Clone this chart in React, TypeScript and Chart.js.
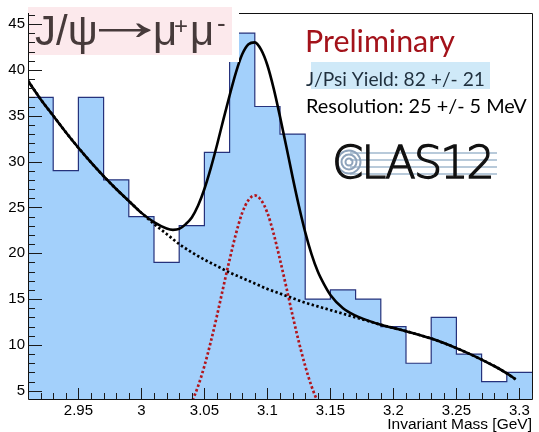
import React, { useEffect, useRef } from "react";
import { Chart, registerables } from "chart.js";

Chart.register(...registerables);

// Di-muon invariant mass histogram: 20 bins of 20 MeV starting at 2.91 GeV
const HIST_LOW = 2.91;
const BIN_WIDTH = 0.02;
const binCounts = [37, 29, 37, 28, 24, 19, 23, 31, 44, 36, 33, 15, 16, 15, 12, 8, 13, 9, 6, 7];

// Axis ranges, ticks and labels
const X_MIN = 2.91;
const X_MAX = 3.31;
const Y_MIN = 4.1;
const Y_MAX = 46.2;
const X_MINOR_STEP = 0.01;
const X_MAJOR_STEP = 0.05;
const Y_MINOR_STEP = 1;
const Y_MAJOR_STEP = 5;
const xTickLabels = ["2.95", "3", "3.05", "3.1", "3.15", "3.2", "3.25", "3.3"];
const yTickLabels = ["5", "10", "15", "20", "25", "30", "35", "40", "45"];
const X_TITLE = "Invariant Mass [GeV]";

// Background component of the fit, sampled along the mass axis
const bkgMass = [
  2.91, 2.92, 2.93, 2.94, 2.95, 2.96, 2.97, 2.98, 2.99, 3.0,
  3.01, 3.02, 3.03, 3.04, 3.05, 3.06, 3.07, 3.08, 3.09, 3.1,
  3.11, 3.12, 3.13, 3.14, 3.15, 3.16, 3.17, 3.18, 3.19, 3.2,
  3.21, 3.22, 3.23, 3.24, 3.25, 3.26, 3.27, 3.28, 3.29, 3.297,
];
const bkgFit = [
  38.8, 36.8, 35.0, 33.2, 31.5, 29.9, 28.4, 27.0, 25.7, 24.4,
  23.2, 22.1, 21.0, 20.1, 19.3, 18.6, 17.9, 17.3, 16.7, 16.1,
  15.6, 15.1, 14.6, 14.2, 13.8, 13.4, 13.0, 12.6, 12.2, 11.85,
  11.5, 11.1, 10.7, 10.2, 9.65, 9.05, 8.4, 7.7, 6.9, 6.25,
];

// J/psi peak component of the fit
const peakMass = [
  3.035, 3.04, 3.045, 3.05, 3.055, 3.06, 3.065, 3.07, 3.075, 3.08, 3.085, 3.09,
  3.095, 3.1, 3.105, 3.11, 3.115, 3.12, 3.125, 3.13, 3.135, 3.14, 3.145,
];
const peakFit = [
  2.6, 3.8, 5.5, 7.7, 10.3, 13.2, 16.3, 19.3, 22.1, 24.4, 25.8, 26.3,
  25.8, 24.4, 22.1, 19.3, 16.3, 13.2, 10.3, 7.7, 5.5, 3.8, 2.6,
];

// Total fit (peak + background)
const totalMass = [
  2.91, 2.92, 2.93, 2.94, 2.95, 2.96, 2.97, 2.98, 2.99, 3.0, 3.01, 3.02,
  3.025, 3.03, 3.035, 3.04, 3.045, 3.05, 3.055, 3.06, 3.065, 3.07, 3.075, 3.08,
  3.085, 3.09, 3.095, 3.1, 3.105, 3.11, 3.115, 3.12, 3.125, 3.13, 3.135, 3.14,
  3.145, 3.15, 3.16, 3.17, 3.18, 3.19, 3.2, 3.21, 3.22, 3.23, 3.24, 3.25,
  3.26, 3.27, 3.28, 3.29, 3.297,
];
const totalFit = [
  38.8, 36.8, 35.0, 33.2, 31.5, 29.9, 28.4, 27.0, 25.7, 24.4, 23.4, 22.7,
  22.55, 22.65, 23.15, 23.9, 25.2, 27.0, 29.25, 31.8, 34.55, 37.2, 39.7, 41.7,
  42.8, 43.0, 42.2, 40.5, 37.95, 34.9, 31.65, 28.3, 25.15, 22.3, 19.9, 18.0,
  16.6, 15.45, 14.0, 13.2, 12.65, 12.2, 11.85, 11.5, 11.1, 10.7, 10.2, 9.65,
  9.05, 8.4, 7.7, 6.9, 6.25,
];

// Annotation texts
const PRELIMINARY = "Preliminary";
const YIELD_TEXT = "J/Psi Yield: 82 +/- 21";
const RESOLUTION_TEXT = "Resolution: 25 +/- 5 MeV";
const LOGO_TEXT = "CLAS12";

const SANS = "'Liberation Sans', Arial, sans-serif";
const HUMANIST = "Lato, 'Open Sans', sans-serif";

const toPoints = (xs: number[], ys: number[]) => xs.map((x, i) => ({ x, y: ys[i] }));

const histPoints = [
  ...binCounts.map((c, i) => ({ x: HIST_LOW + i * BIN_WIDTH, y: c })),
  { x: HIST_LOW + binCounts.length * BIN_WIDTH, y: binCounts[binCounts.length - 1] },
];

function fitText(
  ctx: CanvasRenderingContext2D,
  text: string,
  x: number,
  y: number,
  width: number,
  family: string,
  weight = "normal"
) {
  ctx.font = `${weight} 100px ${family}`;
  const w = ctx.measureText(text).width;
  const size = (100 * width) / w;
  ctx.font = `${weight} ${size}px ${family}`;
  ctx.fillText(text, x, y);
}

// Frame, inward ticks, title panel and annotations
const decorations = {
  id: "decorations",
  afterDraw(chart: any) {
    const { ctx, chartArea: a } = chart;
    const xs = chart.scales.x;
    const ys = chart.scales.y;
    ctx.save();

    // title panel
    const panelRight = 239;
    ctx.fillStyle = "#ffffff";
    ctx.fillRect(30, 0, panelRight - 30, 62);
    ctx.fillStyle = "#fce9ec";
    ctx.fillRect(28, 7, 204, 48);

    // frame
    ctx.strokeStyle = "#111";
    ctx.lineWidth = 1;
    ctx.beginPath();
    ctx.moveTo(a.left + 0.5, a.top);
    ctx.lineTo(a.left + 0.5, a.bottom + 0.5);
    ctx.lineTo(a.right + 0.5, a.bottom + 0.5);
    ctx.lineTo(a.right + 0.5, a.top + 0.5);
    ctx.lineTo(panelRight, a.top + 0.5);
    ctx.stroke();

    // ticks
    ctx.strokeStyle = "#1a1a1a";
    ctx.beginPath();
    const k0 = Math.ceil(X_MIN / X_MINOR_STEP - 1e-6);
    const k1 = Math.floor(X_MAX / X_MINOR_STEP + 1e-6);
    for (let k = k0; k <= k1; k++) {
      const v = k * X_MINOR_STEP;
      const r = v / X_MAJOR_STEP;
      const major = Math.abs(r - Math.round(r)) < 1e-6;
      const px = Math.round(xs.getPixelForValue(v)) + 0.5;
      ctx.moveTo(px, a.bottom);
      ctx.lineTo(px, a.bottom - (major ? 11 : 6));
    }
    for (let v = Math.ceil(Y_MIN); v <= Y_MAX; v += Y_MINOR_STEP) {
      const major = v % Y_MAJOR_STEP === 0;
      const py = Math.round(ys.getPixelForValue(v)) + 0.5;
      ctx.moveTo(a.left, py);
      ctx.lineTo(a.left + (major ? 14 : 7), py);
    }
    ctx.stroke();

    // axis title
    ctx.fillStyle = "#000";
    ctx.font = `15.5px ${SANS}`;
    ctx.textAlign = "right";
    ctx.textBaseline = "alphabetic";
    ctx.fillText(X_TITLE, a.right, 429);
    ctx.textAlign = "left";

    // plot title J/psi -> mu+ mu-
    ctx.fillStyle = "#463a3a";
    ctx.font = `42px ${SANS}`;
    ctx.fillText("J/ψ", 35, 45);
    ctx.font = `46px ${SANS}`;
    const am = ctx.measureText("→");
    const inkL = -am.actualBoundingBoxLeft;
    const inkW = am.actualBoundingBoxRight + am.actualBoundingBoxLeft;
    const inkMid = (am.actualBoundingBoxDescent - am.actualBoundingBoxAscent) / 2;
    const sx = 53 / inkW;
    const sy = 1.25;
    ctx.save();
    ctx.translate(98 - inkL * sx, 30 - inkMid * sy);
    ctx.scale(sx, sy);
    ctx.fillText("→", 0, 0);
    ctx.restore();
    ctx.font = `42px ${SANS}`;
    ctx.fillText("μ", 153, 45);
    ctx.font = `24px ${SANS}`;
    ctx.fillText("+", 174, 34);
    ctx.font = `42px ${SANS}`;
    ctx.fillText("μ", 190, 45);
    ctx.font = `26px ${SANS}`;
    ctx.fillText("-", 217, 32);

    // annotations
    ctx.fillStyle = "#cfe9f8";
    ctx.fillRect(311, 62, 179, 27);
    ctx.fillStyle = "#a3121a";
    fitText(ctx, PRELIMINARY, 305, 52, 150, HUMANIST);
    ctx.fillStyle = "#1f2f3d";
    fitText(ctx, YIELD_TEXT, 306, 86, 179, HUMANIST);
    ctx.fillStyle = "#000";
    fitText(ctx, RESOLUTION_TEXT, 306, 113, 221, HUMANIST);

    // logo
    ctx.strokeStyle = "rgba(130,160,190,0.75)";
    ctx.lineWidth = 1.6;
    for (const ly of [153, 160, 167, 174]) {
      ctx.beginPath();
      ctx.moveTo(350, ly);
      ctx.lineTo(497, ly);
      ctx.stroke();
    }
    ctx.strokeStyle = "#8ea3bb";
    ctx.lineWidth = 2;
    for (const r of [3.5, 7.5, 11.5]) {
      ctx.beginPath();
      ctx.arc(349, 162, r, 0, Math.PI * 2);
      ctx.stroke();
    }
    ctx.fillStyle = "#111";
    ctx.strokeStyle = "#111";
    ctx.lineWidth = 1.3;
    ctx.font = `200 45px 'DejaVu Sans', sans-serif`;
    const w0 = ctx.measureText(LOGO_TEXT).width;
    const spacing = (163 - w0) / (LOGO_TEXT.length - 1);
    (ctx as any).letterSpacing = `${spacing}px`;
    ctx.fillText(LOGO_TEXT, 332, 178);
    ctx.strokeText(LOGO_TEXT, 332, 178);
    (ctx as any).letterSpacing = "0px";

    ctx.restore();
  },
};

export default function App() {
  const canvasRef = useRef<HTMLCanvasElement | null>(null);

  useEffect(() => {
    const canvas = canvasRef.current;
    if (!canvas) return;
    const tickFont = { family: SANS, size: 15 };
    const chart = new Chart(canvas, {
      type: "line",
      data: {
        datasets: [
          {
            label: "Fit",
            data: toPoints(totalMass, totalFit),
            borderColor: "#000",
            borderWidth: 2.6,
            pointRadius: 0,
            fill: false,
            cubicInterpolationMode: "monotone",
            order: 0,
            clip: 0,
          },
          {
            label: "Signal",
            data: toPoints(peakMass, peakFit),
            borderColor: "#b3151b",
            borderWidth: 2.7,
            borderDash: [2.5, 2.3],
            pointRadius: 0,
            fill: false,
            cubicInterpolationMode: "monotone",
            order: 1,
            clip: 0,
          },
          {
            label: "Background",
            data: toPoints(bkgMass, bkgFit),
            borderColor: "#000",
            borderWidth: 2.7,
            borderDash: [2.4, 2.4],
            pointRadius: 0,
            fill: false,
            cubicInterpolationMode: "monotone",
            order: 2,
            clip: 0,
          },
          {
            label: "Data",
            data: histPoints,
            stepped: true,
            fill: "start",
            backgroundColor: "#a3d0fb",
            borderColor: "#26327c",
            borderWidth: 1.2,
            pointRadius: 0,
            order: 3,
          },
        ],
      } as any,
      options: {
        animation: false,
        responsive: false,
        events: [],
        layout: { padding: { left: 0, top: 13, right: 7, bottom: 0 } },
        plugins: { legend: { display: false }, tooltip: { enabled: false } },
        scales: {
          x: {
            type: "linear",
            min: X_MIN,
            max: X_MAX,
            grid: { display: false, drawTicks: false },
            border: { display: false },
            afterBuildTicks: (s: any) => {
              s.ticks = xTickLabels.map((t) => ({ value: Number(t) }));
            },
            afterFit: (s: any) => {
              s.height = 33;
            },
            ticks: {
              autoSkip: false,
              maxRotation: 0,
              padding: 3,
              color: "#000",
              font: tickFont,
              callback: (_v: any, i: number) => xTickLabels[i],
            },
          },
          y: {
            type: "linear",
            min: Y_MIN,
            max: Y_MAX,
            grid: { display: false, drawTicks: false },
            border: { display: false },
            afterBuildTicks: (s: any) => {
              s.ticks = yTickLabels.map((t) => ({ value: Number(t) }));
            },
            afterFit: (s: any) => {
              s.width = 28;
            },
            ticks: {
              autoSkip: false,
              padding: 3,
              color: "#000",
              font: tickFont,
              callback: (_v: any, i: number) => yTickLabels[i],
            },
          },
        },
      } as any,
      plugins: [decorations],
    });
    return () => chart.destroy();
  }, []);

  return (
    <div style={{ position: "absolute", left: 0, top: 0, width: 539, height: 432, background: "#fff" }}>
      <canvas ref={canvasRef} width={539} height={432} style={{ display: "block" }} />
    </div>
  );
}
